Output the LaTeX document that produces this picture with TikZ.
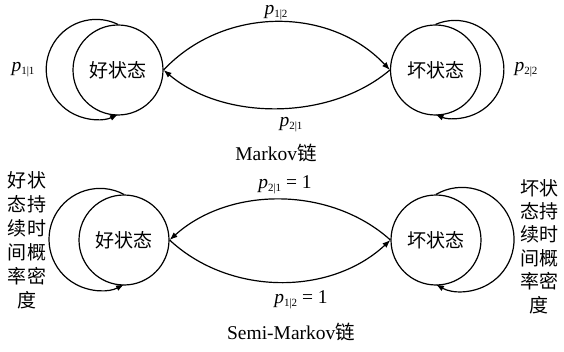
\documentclass[tikz,border=0pt]{standalone}
\usepackage{fontspec}
\setmainfont{Liberation Serif}
\newfontfamily\cjk{Noto Sans CJK SC}
\usetikzlibrary{arrows.meta}
\newcommand\pq[1]{\textit{p}\raisebox{-3pt}{\fontsize{11}{11}\selectfont #1}}
\begin{document}
\begin{tikzpicture}[x=1pt,y=1pt,
  every node/.style={font=\fontsize{19.5}{24}\selectfont},
  state/.style={circle,draw,line width=1.2pt,minimum size=90pt,inner sep=0pt,font=\fontsize{19}{24}\selectfont\cjk},
  conn/.style={line width=1.2pt,-{Latex[length=8pt,width=6pt]}},
  lbl/.style={inner sep=0pt}]
\useasboundingbox (0,0) rectangle (564,351);
% top Markov chain
\node[state] (A) at (118,281) {好状态};
\node[state] (B) at (435.5,281) {坏状态};
\draw[conn] (A.90) arc[start angle=64.16, end angle=295.84, radius=50];
\draw[conn] (B.90) arc[start angle=113.3, end angle=-113.3, radius=49];
\draw[conn] (A.east) .. controls +(60,64) and +(-60,64) .. (B.west);
\draw[conn] (B.west) .. controls +(-60,-51) and +(60,-51) .. (A.east);
\node[lbl] (p11) at (23,281) {\pq{1|1}};
\node[lbl] (p22) at (526,281) {\pq{2|2}};
\node[lbl] (p12) at (276,338) {\pq{1|2}};
\node[lbl] (p21) at (291,226) {\pq{2|1}};
\node[lbl] (t1) at (276,198) {Markov{\cjk 链}};
% bottom semi-Markov chain
\node[state] (C) at (124,111) {好状态};
\node[state] (D) at (436,111) {坏状态};
\draw[conn] (C.90) arc[start angle=61.93, end angle=298.07, radius=51];
\draw[conn] (D.90) arc[start angle=120.07, end angle=-120.07, radius=52];
\draw[conn] (D.west) .. controls +(-60,54) and +(60,54) .. (C.east);
\draw[conn] (C.east) .. controls +(60,-56) and +(-60,-56) .. (D.west);
\node[lbl] (q21) at (285,166) {\pq{2|1} = 1};
\node[lbl] (q12) at (301,51) {\pq{1|2} = 1};
\node[lbl] (t2) at (291,19) {Semi-Markov{\cjk 链}};
\node[lbl,align=center,font=\fontsize{19}{24}\selectfont\cjk,anchor=north] (L) at (27,180) {好状\\态持\\续时\\间概\\率密\\度};
\node[lbl,align=center,font=\fontsize{19}{23.4}\selectfont\cjk,anchor=north] (R) at (539,172) {坏状\\态持\\续时\\间概\\率密\\度};
\end{tikzpicture}
\end{document}
